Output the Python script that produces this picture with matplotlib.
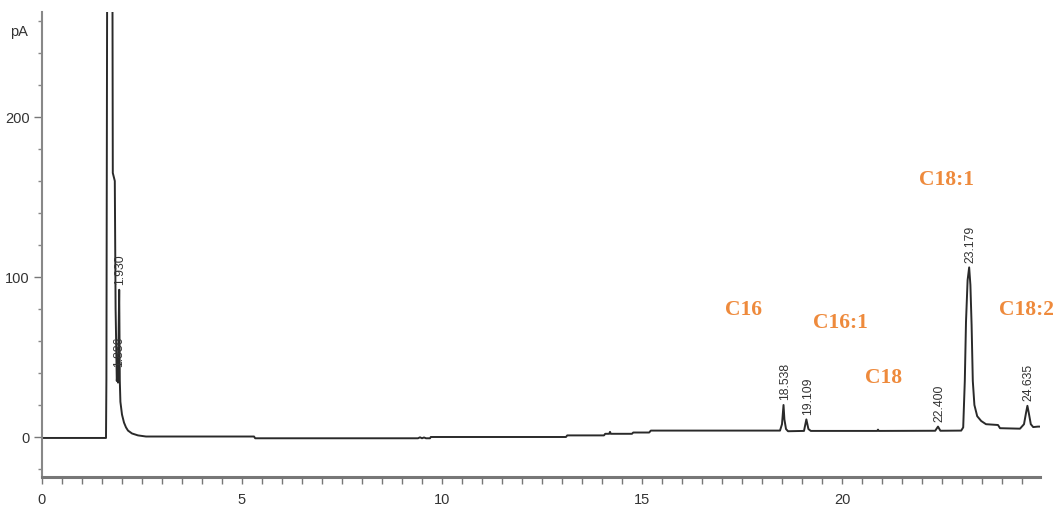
import matplotlib.pyplot as plt
import numpy as np
from matplotlib.ticker import MultipleLocator

plt.rcParams["font.family"] = ["Liberation Sans", "DejaVu Sans"]

# FID trace, retention time (min) vs signal (pA)
time_min = [
    0.00, 1.60, 1.61, 1.63, 1.70, 1.76, 1.77, 1.82, 1.84, 1.87, 1.886, 1.90,
    1.930, 1.945, 1.96, 2.00, 2.05, 2.10, 2.15, 2.25, 2.40, 2.60, 5.30, 5.33,
    9.40, 9.45, 9.50, 9.55, 9.60, 9.70, 9.72, 13.10, 13.13, 14.05, 14.08, 14.18,
    14.20, 14.22, 14.75, 14.78, 15.18, 15.22, 18.45, 18.50, 18.538, 18.56, 18.60,
    18.65, 19.05, 19.109, 19.16, 19.22, 20.88, 20.90, 20.92, 22.33, 22.400, 22.46,
    22.98, 23.03, 23.07, 23.10, 23.14, 23.179, 23.21, 23.24, 23.27, 23.31, 23.38,
    23.48, 23.60, 23.90, 23.95, 24.45, 24.55, 24.60, 24.635, 24.67, 24.72, 24.78,
    24.90, 24.95,
]
signal_pA = [
    -0.6, -0.6, 36, 300, 300, 300, 165, 160, 80, 35, 41, 34,
    92, 35, 22, 14, 9, 6, 4, 2.2, 1.0, 0.3, 0.3, -0.8,
    -0.8, -0.2, -0.8, -0.3, -0.8, -0.8, 0.0, 0.0, 1.0, 1.0, 2.0, 2.0,
    3.2, 2.0, 2.0, 2.8, 2.8, 4.0, 4.0, 8, 20, 11, 5,
    3.6, 3.8, 11, 5, 3.8, 3.8, 4.6, 3.8, 3.9, 6.5, 3.9,
    4.0, 6, 35, 72, 98, 106, 95, 70, 35, 20, 13,
    10, 8, 7.5, 5.5, 5.2, 8, 15, 19.5, 15, 8, 6.2,
    6.5, 6.5,
]

# integrated peaks: retention time and apex height
peak_rt = [1.886, 1.930, 18.538, 19.109, 22.400, 23.179, 24.635]
peak_height = [41, 92, 20, 11, 6.5, 106, 19.5]

# fatty acid assignments (text, x in min, y in pA)
fa_names = ["C16", "C16:1", "C18", "C18:1", "C18:2"]
fa_x = [17.55, 19.95, 21.05, 22.6, 24.6]
fa_y = [80, 72, 37.5, 161, 80]

fig = plt.figure(figsize=(10.58, 5.10), dpi=100)
ax = fig.add_axes([42 / 1058, 32 / 510, 998 / 1058, 465 / 510])

ax.plot(time_min, signal_pA, color="#2a2a2a", lw=1.4)

for rt, h in zip(peak_rt, peak_height):
    ax.annotate(f"{rt:.3f}", xy=(rt, h), xytext=(1, 4), textcoords="offset points",
                rotation=90, ha="center", va="bottom", fontsize=8.8, color="#333333")

for name, x, y in zip(fa_names, fa_x, fa_y):
    ax.text(x, y, name, ha="center", va="center", fontsize=15.5, fontweight="bold",
            family="Liberation Serif", color="#EE8A3C")

ax.set_xlim(0, 24.95)
ax.set_ylim(-25, 265.6)

for side in ["top", "right"]:
    ax.spines[side].set_visible(False)
ax.spines["left"].set_color("#888888")
ax.spines["left"].set_linewidth(1.5)
ax.spines["bottom"].set_color("#777777")
ax.spines["bottom"].set_linewidth(2.2)

ax.xaxis.set_major_locator(MultipleLocator(5))
ax.xaxis.set_minor_locator(MultipleLocator(0.5))
ax.yaxis.set_major_locator(MultipleLocator(100))
ax.yaxis.set_minor_locator(MultipleLocator(20))
ax.set_yticks([0, 100, 200])

ax.tick_params(axis="x", which="both", direction="out", length=5, width=1,
               color="#777777", labelsize=10.5, labelcolor="#333333", pad=6)
ax.tick_params(axis="y", which="major", direction="out", length=6, width=1,
               color="#777777", labelsize=10.5, labelcolor="#333333", pad=3)
ax.tick_params(axis="y", which="minor", direction="out", length=3, width=1,
               color="#888888")

fig.text(10 / 1058, 1 - 32 / 510, "pA", fontsize=10.5, color="#333333",
         ha="left", va="center")

fig.savefig("out.png", dpi=100)
